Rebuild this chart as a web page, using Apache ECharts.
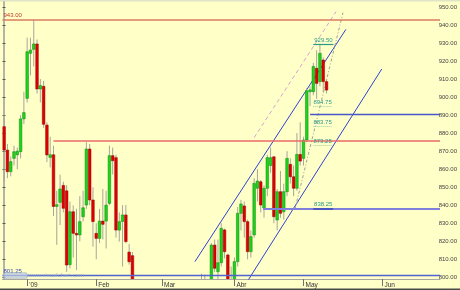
<!DOCTYPE html>
<html><head><meta charset="utf-8">
<script src="https://cdn.jsdelivr.net/npm/echarts/dist/echarts.min.js"></script>
<style>html,body{margin:0;padding:0;background:#ffffc8;overflow:hidden}#c{width:460px;height:290px}</style>
</head><body><div id="c"></div>
<script>
// number of category slots on the time axis (trading days incl. empty future space)
const N = 133;
const tickIdx = [7, 28, 48, 70, 91, 115];
const tickLabels = ["'09", "Feb", "Mar", "Abr", "May", "Jun"];
const yTicksMin = 800, yTicksMax = 950, yTickStep = 10;

// OHLC per trading day, index 0 = 22 Dec 2008 ; null = below the visible range
const open  = [883.6,870.6,858.6,866,868,869.7,887.9,899.3,924.3,926.5,929.5,904.5,906,884.5,866.5,868,839.3,841.6,851,848,807,836.4,824.4,823.5,833.6,840.1,871.2,842.9,824.4,821.6,831.2,831.2,841,867.5,866.4,826.2,831,834.6,814,812,
  null,null,null,null,null,null,null,null,null,null,null,null,null,null,null,null,null,null,null,null,
  790,795,null,775,817.9,803.1,808.1,826.3,812.4,790,792,808.7,835.5,839.6,830.9,814.2,823.5,849.4,853,838.5,849.4,862,866.9,831.8,847.5,836.4,847.5,862.7,855.8,849.4,868.2,866,876.2,903,903,916,908.6,920.6,908.6];
const high  = [890,874,867,873,872,890,903,933,933,943,932,910,909,886,878,873,848,857,853,851,842,840,838,845,848,875,874,850,830,838,849,848,873,872,868,836,840,840.1,818.5,814,
  null,null,null,null,null,null,null,null,null,null,null,null,null,null,null,null,null,null,null,null,
  802,801.5,null,819,821,821,830,827,813,806,811,839,843,842,832,826,855,860,854,851,868,872,867,849,859,852,870,866,862,880,886,878,905,906,919,926,929.5,922,910];
const low   = [853,855,856,862,860,866,885,897,912,917,902,897,883,864,861,834,818,829,836,803,805,811,804,820,831,838,840,817,810,819,821,816,840,857,822,819.8,806,818.9,807,788,
  null,null,null,null,null,null,null,null,null,null,null,null,null,null,null,null,null,null,null,null,
  785,780,null,773,803,791,806,810.5,780,788,784,806,826,822,810,811,822,842,836,833,845,858,830,826,833,832,845,852,845,848,862,862,875,895,901,899,906,903,902];
const close = [870.6,858.6,864.2,869.7,870,887.9,891.4,925.2,926.1,929.5,904.5,906.4,884.9,867.9,868,839.3,840.3,849,838.3,806.8,836.4,824.4,823.5,830.9,838.6,871.2,842.9,830.9,821.6,831.2,829.4,840.1,867.5,864.7,826.2,830.9,834.6,819.8,808.6,790,
  null,null,null,null,null,null,null,null,null,null,null,null,null,null,null,null,null,null,null,null,
  795,785,null,817.9,805,808.1,827.2,814.2,790,796,808.7,835.5,840.7,830.9,814.2,822.6,852.1,853.4,840.1,849.4,866.4,866.4,833.6,847.5,835.5,847.5,866,855.8,849.4,868.2,864.5,876.2,903.5,904,917,907.6,924.3,908.6,903.9];

// horizontal levels [value, fromIndex]
const resistance943 = [943, -0.5];
const redLevel = [875.75, 15];
const blueLevel = [890.5, 93];
const supportLevel = [838.25, 78.7];
const bottomLevel = [801.25, -0.5];
const fibLevels = [929.50, 894.75, 883.75, 873.25];
const fibLabels = ["929.50", "894.75", "883.75", "873.25"];
// trend lines [[index, value], [index, value]]
const upperChannel = [[58.0, 808.7], [103.9, 937.6]];
const lowerChannel = [[74.2, 798.5], [114.8, 915.6]];
const pinkDashed = [[76.0, 877.5], [100.9, 947.4]];
const grayDashed = [[88.4, 837.8], [103.0, 946.8]];

const candles = [];
for (let i = 0; i < open.length; i++) {
  if (open[i] == null) continue;
  candles.push([i, open[i], close[i], low[i], high[i]]);
}
const cats = [];
for (let i = 0; i < N; i++) { const k = tickIdx.indexOf(i); cats.push(k >= 0 ? tickLabels[k] : ''); }

const chart = echarts.init(document.getElementById('c'), null, {renderer: 'canvas'});
const yMin = 950 - 272 / 1.802, yMax = 950 + 5 / 1.802;

function hLine(v, x1, x2, color, width, type, label, pos, lcolor) {
  return [{coord: [x1, v], lineStyle: {color: color, width: width, type: type},
    label: label ? {show: true, formatter: label, position: pos, color: lcolor, fontSize: 6, distance: 1, fontFamily: 'Liberation Sans'} : {show: false}},
    {coord: [x2, v]}];
}
const marks = [
  hLine(resistance943[0], resistance943[1], N - 0.5, '#d97c62', 1.6, 'solid', '943.00', 'insideStartTop', '#c03a2a'),
  hLine(redLevel[0], redLevel[1], N - 0.5, '#e86a6a', 1.6, 'solid', null),
  hLine(blueLevel[0], blueLevel[1], N - 0.5, '#4a56c8', 1.4, 'solid', null),
  hLine(supportLevel[0], supportLevel[1], N - 0.5, '#8080dc', 2, 'solid', null),
  hLine(supportLevel[0], 94, 100, '#4858c0', 2, 'solid', '838.25', 'insideMiddleTop', '#2a9a8a'),
  hLine(bottomLevel[0], bottomLevel[1], N - 0.5, '#5262d0', 1.4, 'solid', '801.25', 'insideStartTop', '#3848b8'),
  hLine(fibLevels[0], 94, 100.1, '#2a9a8a', 1.2, 'solid', fibLabels[0], 'insideMiddleTop', '#2a9a8a'),
  hLine(fibLevels[1], 94, 99.6, '#7cc4a8', 0.8, [1, 1], fibLabels[1], 'insideMiddleTop', '#2a9a8a'),
  hLine(fibLevels[2], 94, 99.6, '#7cc4a8', 0.8, [1, 1], fibLabels[2], 'insideMiddleTop', '#2a9a8a'),
  hLine(fibLevels[3], 94, 99.6, '#7cc4a8', 0.8, [1, 1], fibLabels[3], 'insideMiddleTop', '#2a9a8a')
];

function trend(data, color, width, type) {
  return {type: 'line', xAxisIndex: 1, yAxisIndex: 0, data: data, symbol: 'none', silent: true, clip: true,
    lineStyle: {color: color, width: width, type: type}, z: 3, animation: false};
}

const series = [
  Object.assign(trend(upperChannel, '#3040d0', 1, 'solid'), {markLine: {symbol: 'none', silent: true, animation: false, data: marks}}),
  trend(lowerChannel, '#3040d0', 1, 'solid'),
  trend(pinkDashed, '#d8a0d4', 1, [4, 3]),
  trend(grayDashed, '#a0a098', 1, [3, 2, 1, 2]),
  {
    type: 'custom', xAxisIndex: 1, yAxisIndex: 0, data: candles, clip: true, z: 4, animation: false,
    encode: {x: 0, y: [1, 2, 3, 4]},
    renderItem: function (params, api) {
      const i = api.value(0), o = api.value(1), c = api.value(2), l = api.value(3), h = api.value(4);
      const pO = api.coord([i, o]), pC = api.coord([i, c]), pL = api.coord([i, l]), pH = api.coord([i, h]);
      const w = api.size([1, 0])[0] * 0.8;
      const up = c >= o;
      const top = Math.min(pO[1], pC[1]), bot = Math.max(pO[1], pC[1]);
      return {type: 'group', children: [
        {type: 'line', shape: {x1: pH[0], y1: pH[1], x2: pL[0], y2: pL[1]}, style: {stroke: '#a6a69c', lineWidth: 1}},
        {type: 'rect', shape: {x: pO[0] - w / 2, y: top, width: w, height: Math.max(bot - top, 1)},
          style: {fill: up ? '#1ed21e' : '#e00000', stroke: up ? '#0c8a0c' : '#900000', lineWidth: 0.5}}
      ]};
    }
  }
];

chart.setOption({
  animation: false,
  backgroundColor: '#ffffc8',
  textStyle: {fontFamily: 'Liberation Sans'},
  grid: [
    {left: 2.5, right: 20, top: 2, bottom: 11, show: false},
    {left: 2.5, right: 20, top: 7, height: (yTicksMax - yTicksMin) * 1.802, show: false}
  ],
  xAxis: [
    {type: 'category', gridIndex: 0, data: cats, boundaryGap: true,
      axisLine: {show: true, lineStyle: {color: '#a8a8a0', width: 1}},
      axisTick: {show: true, alignWithLabel: true, length: 7, interval: function (i, v) { return v !== ''; }, lineStyle: {color: '#707070'}},
      axisLabel: {show: true, interval: function (i, v) { return v !== ''; }, align: 'left', padding: [0, 0, 0, 2], margin: 3, fontSize: 6.5, color: '#333'},
      splitLine: {show: false}},
    {type: 'value', gridIndex: 0, min: -0.5, max: N - 0.5, show: false},
    {type: 'value', gridIndex: 1, min: 0, max: 1, show: false}
  ],
  yAxis: [
    {type: 'value', gridIndex: 0, min: yMin, max: yMax, position: 'right',
      axisLine: {show: true, lineStyle: {color: '#b4b4a8', width: 2}}, axisTick: {show: false}, axisLabel: {show: false}, splitLine: {show: false}},
    {type: 'value', gridIndex: 1, min: yTicksMin, max: yTicksMax, interval: yTickStep, position: 'right',
      axisLine: {show: false}, axisTick: {show: true, length: 3, inside: false, lineStyle: {color: '#555'}},
      axisLabel: {show: true, margin: 1, fontSize: 6, color: '#444', formatter: function (v) { return v.toFixed(2); }},
      splitLine: {show: false}}
  ],
  graphic: [
    {type: 'rect', left: 0, top: 0, shape: {width: 460, height: 1.5}, style: {fill: '#dfe5c6'}, silent: true},
    {type: 'rect', left: 0, top: 288.5, shape: {width: 460, height: 1.5}, style: {fill: '#4a4a4a'}, silent: true},
    {type: 'rect', left: 3, top: 272.5, shape: {width: 24, height: 5.5, r: 1.5}, style: {fill: 'rgba(190,205,225,0.7)', stroke: '#9aaac4', lineWidth: 0.6}, silent: true, z: 10},
    {type: 'text', left: 28, top: 272.3, style: {text: 'www.visualchart.com', fill: 'rgba(140,160,200,0.85)', font: '6px "Liberation Sans"'}, silent: true, z: 10}
  ],
  series: series
});
</script></body></html>
